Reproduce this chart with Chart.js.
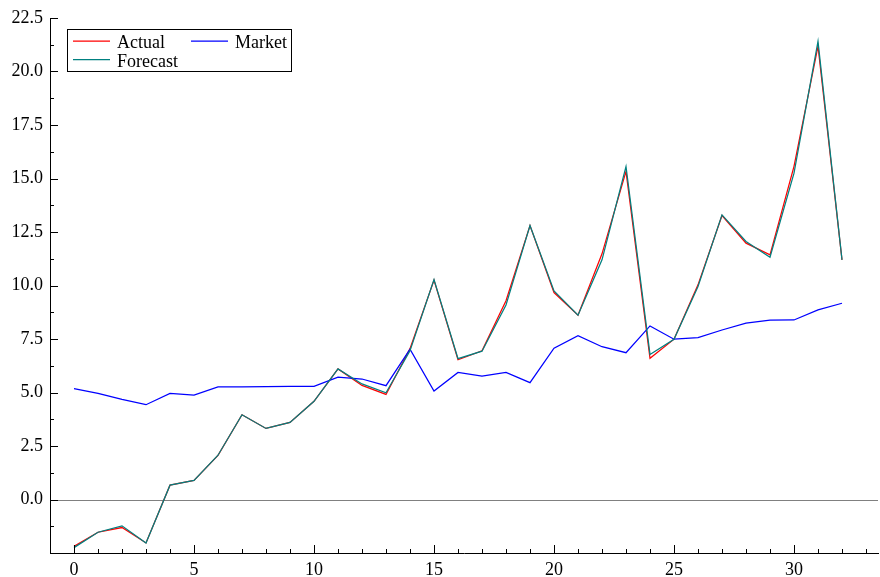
<!DOCTYPE html>
<html>
<head>
<meta charset="utf-8">
<script src="https://cdn.jsdelivr.net/npm/chart.js@4.4.1/dist/chart.umd.min.js"></script>
<style>
  html, body { margin: 0; padding: 0; background: #ffffff; }
  canvas { display: block; }
</style>
</head>
<body>
<canvas id="chart" width="880" height="577"></canvas>
<script>
// Period index for each observation
const periods = [0, 1, 2, 3, 4, 5, 6, 7, 8, 9, 10, 11, 12, 13, 14, 15, 16,
                 17, 18, 19, 20, 21, 22, 23, 24, 25, 26, 27, 28, 29, 30, 31, 32];

// Observed values
const actual = [-2.19, -1.53, -1.31, -2.03, 0.67, 0.89, 2.06, 3.96, 3.32, 3.60, 4.59,
                6.10, 5.33, 4.91, 7.05, 10.25, 6.53, 6.95, 9.29, 12.80, 9.67, 8.61,
                11.48, 15.33, 6.60, 7.49, 10.03, 13.27, 11.98, 11.43, 15.57, 21.18, 11.20];

// Market benchmark
const market = [5.18, 4.96, 4.68, 4.43, 4.96, 4.88, 5.26, 5.26, 5.27, 5.29, 5.29,
                5.72, 5.63, 5.32, 7.02, 5.07, 5.94, 5.77, 5.94, 5.46, 7.07, 7.66,
                7.14, 6.86, 8.11, 7.49, 7.56, 7.92, 8.24, 8.38, 8.39, 8.86, 9.17];

// Model forecast
const forecast = [-2.25, -1.53, -1.23, -2.03, 0.67, 0.89, 2.07, 3.96, 3.32, 3.60, 4.59,
                  6.10, 5.40, 4.99, 6.95, 10.28, 6.58, 6.93, 9.09, 12.80, 9.75, 8.61,
                  11.20, 15.56, 6.78, 7.49, 9.95, 13.30, 12.06, 11.32, 15.25, 21.41, 11.20];

// Labelled ticks
const xTicks = [0, 5, 10, 15, 20, 25, 30];
const yTicks = [0, 2.5, 5, 7.5, 10, 12.5, 15, 17.5, 20, 22.5];

const FONT = '"Liberation Serif", "Times New Roman", Times, serif';
const FONT_SIZE = 18;

const toPoints = (vals) => vals.map((v, i) => ({ x: periods[i], y: v }));

// Zero reference line and inward major/minor tick marks
const axisMarks = {
  id: 'axisMarks',
  beforeDatasetsDraw(chart) {
    const { ctx, chartArea, scales: { y } } = chart;
    const y0 = Math.round(y.getPixelForValue(0)) + 0.5;
    ctx.save();
    ctx.strokeStyle = '#808080';
    ctx.lineWidth = 1;
    ctx.beginPath();
    ctx.moveTo(chartArea.left, y0);
    ctx.lineTo(chartArea.right, y0);
    ctx.stroke();
    ctx.restore();
  },
  afterDraw(chart) {
    const { ctx, chartArea, scales: { x, y } } = chart;
    ctx.save();
    ctx.strokeStyle = '#000000';
    ctx.lineWidth = 1;
    ctx.beginPath();
    // x axis: major every 5, minor every 1
    for (let v = 0; v <= 33; v++) {
      const px = Math.round(x.getPixelForValue(v)) + 0.5;
      const len = v % 5 === 0 ? 8 : 4;
      ctx.moveTo(px, chartArea.bottom);
      ctx.lineTo(px, chartArea.bottom - len);
    }
    // y axis: major every 2.5, minor halfway between
    for (let k = -1; k <= 18; k++) {
      const v = k * 1.25;
      if (v <= y.min || v > y.max) continue;
      const py = Math.round(y.getPixelForValue(v)) + 0.5;
      const len = k % 2 === 0 ? 8 : 4;
      ctx.moveTo(chartArea.left, py);
      ctx.lineTo(chartArea.left + len, py);
    }
    ctx.stroke();
    ctx.restore();
  }
};

// Boxed two-column legend in the upper-left of the plot
const boxedLegend = {
  id: 'boxedLegend',
  afterDraw(chart) {
    const { ctx, chartArea } = chart;
    const left = chartArea.left + 17;
    const top = chartArea.top + 11;
    const w = 224, h = 42;
    ctx.save();
    ctx.fillStyle = '#ffffff';
    ctx.fillRect(left, top, w, h);
    ctx.strokeStyle = '#000000';
    ctx.lineWidth = 1;
    ctx.strokeRect(left + 0.5, top + 0.5, w, h);
    ctx.font = FONT_SIZE + 'px ' + FONT;
    ctx.textBaseline = 'alphabetic';
    ctx.textAlign = 'left';
    chart.data.datasets.forEach((ds, i) => {
      const col = i % 2, row = Math.floor(i / 2);
      const lx = left + 6 + col * 118;
      const ly = top + 12 + row * 18.5;
      ctx.strokeStyle = ds.borderColor;
      ctx.lineWidth = 1.25;
      ctx.beginPath();
      ctx.moveTo(lx, ly);
      ctx.lineTo(lx + 37, ly);
      ctx.stroke();
      ctx.fillStyle = '#000000';
      ctx.fillText(ds.label, lx + 44, ly + 7);
    });
    ctx.restore();
  }
};

new Chart(document.getElementById('chart'), {
  type: 'line',
  data: {
    datasets: [
      { label: 'Actual', data: toPoints(actual), borderColor: '#ff0000', order: 3 },
      { label: 'Market', data: toPoints(market), borderColor: '#0000ff', order: 2 },
      { label: 'Forecast', data: toPoints(forecast), borderColor: '#008080', order: 1 }
    ]
  },
  options: {
    responsive: false,
    devicePixelRatio: 1,
    animation: false,
    layout: { padding: { top: 18, right: 2, left: 0, bottom: 0 } },
    elements: {
      line: { borderWidth: 1.25, tension: 0, fill: false },
      point: { radius: 0, hoverRadius: 0 }
    },
    plugins: {
      legend: { display: false },
      tooltip: { enabled: false }
    },
    scales: {
      x: {
        type: 'linear',
        min: -1,
        max: 33.5,
        afterBuildTicks: (s) => { s.ticks = xTicks.map(v => ({ value: v })); },
        afterFit: (s) => { s.height = 24; },
        grid: { display: true, drawOnChartArea: false, drawTicks: false },
        border: { display: true, color: '#000000', width: 1 },
        ticks: {
          color: '#000000',
          font: { family: FONT, size: FONT_SIZE },
          padding: 6,
          maxRotation: 0,
          autoSkip: false,
          callback: (v) => String(v)
        }
      },
      y: {
        type: 'linear',
        min: -2.5,
        max: 22.5,
        afterBuildTicks: (s) => { s.ticks = yTicks.map(v => ({ value: v })); },
        afterFit: (s) => { s.width = 50; },
        grid: { display: true, drawOnChartArea: false, drawTicks: false },
        border: { display: true, color: '#000000', width: 1 },
        ticks: {
          color: '#000000',
          font: { family: FONT, size: FONT_SIZE },
          padding: 7,
          autoSkip: false,
          callback: (v) => Number(v).toFixed(1)
        }
      }
    }
  },
  plugins: [axisMarks, boxedLegend]
});
</script>
</body>
</html>
